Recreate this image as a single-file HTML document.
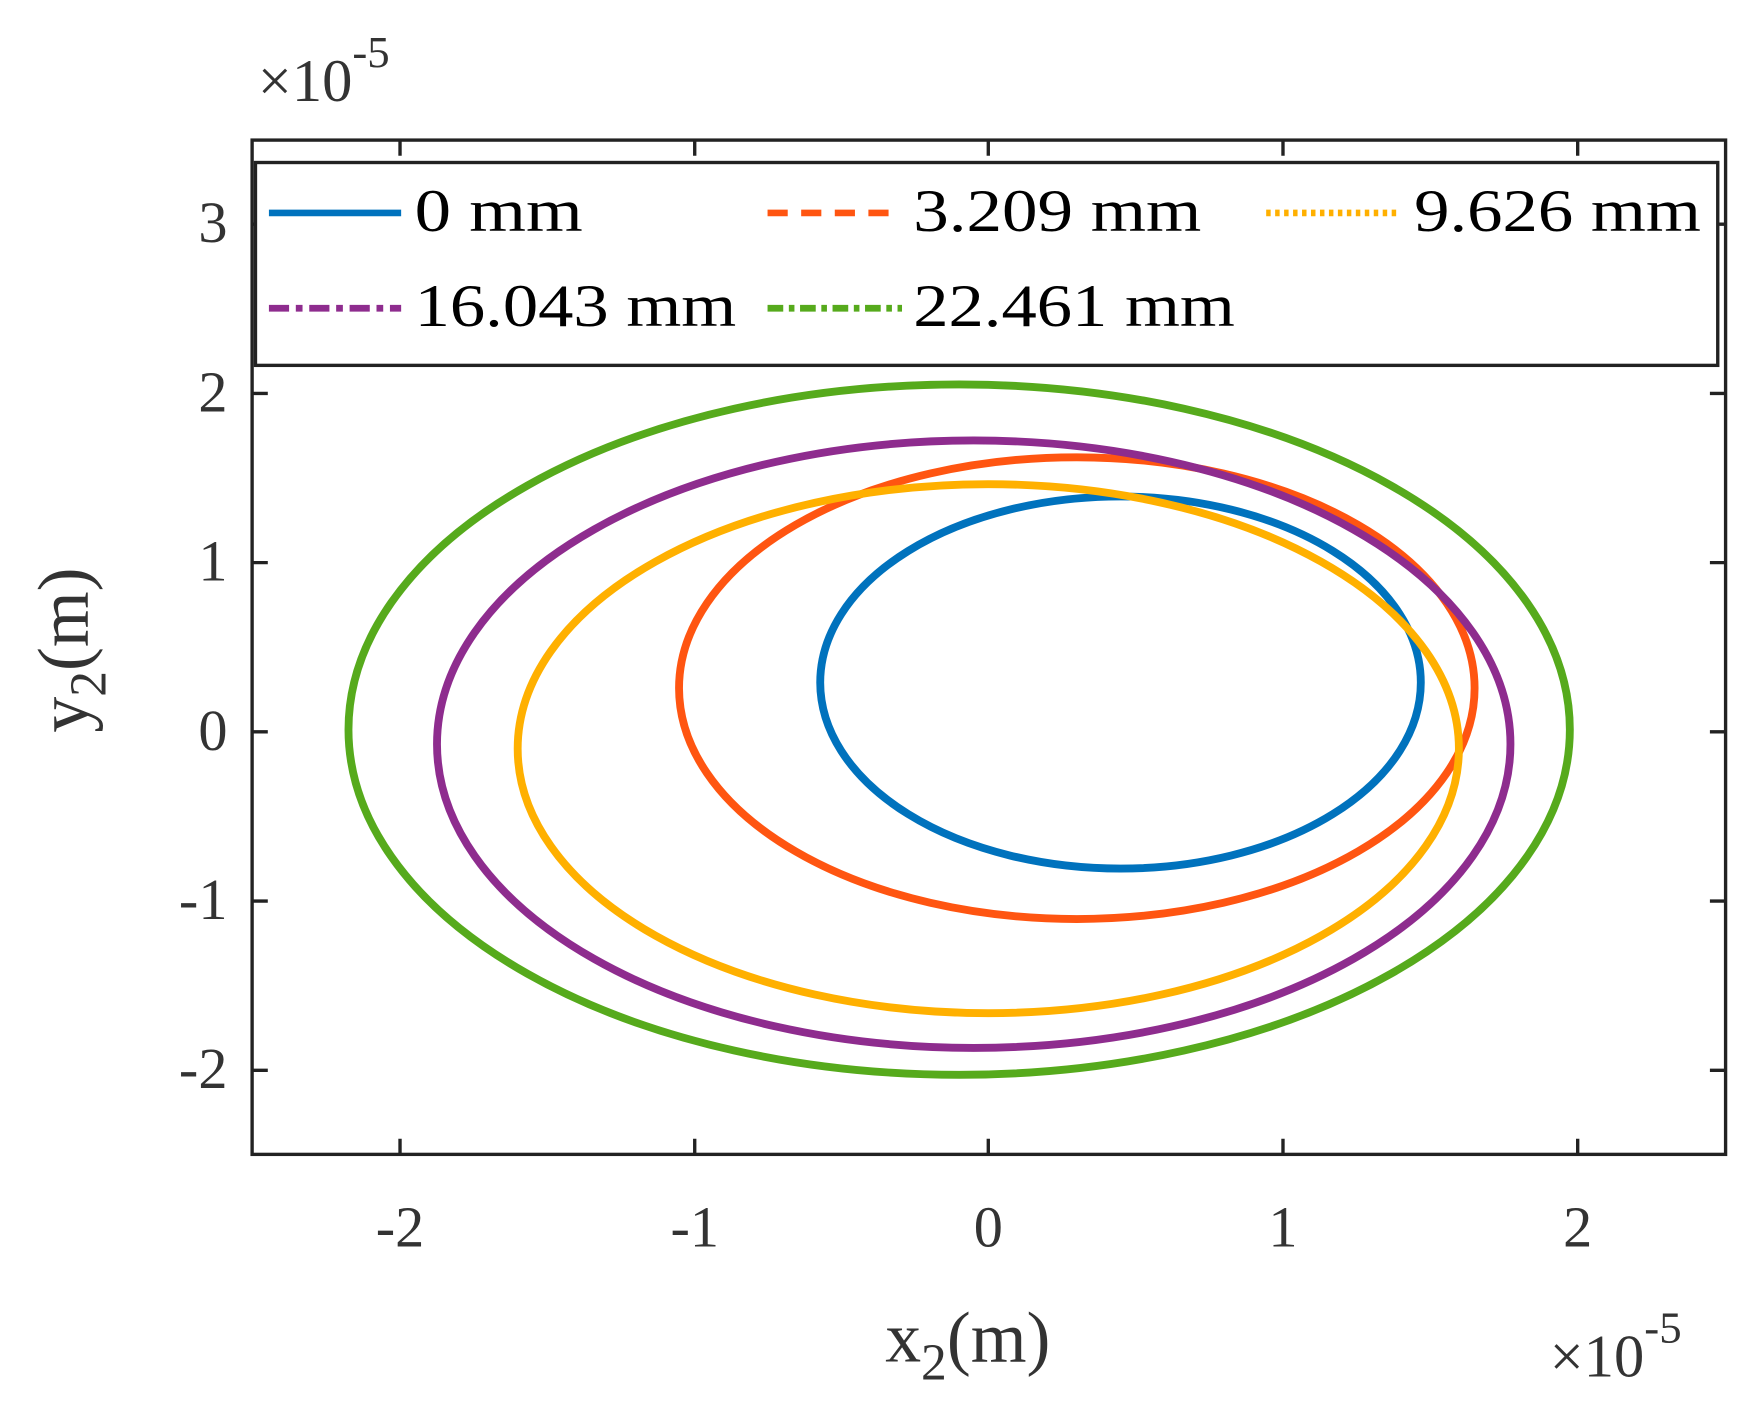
<!DOCTYPE html>
<html><head><style>html,body{margin:0;padding:0;background:#fff}svg{display:block}</style></head>
<body>
<svg width="1748" height="1420" viewBox="0 0 1560 1267" preserveAspectRatio="none" xmlns="http://www.w3.org/2000/svg" font-family="'Liberation Serif', serif">
<rect width="1560" height="1267" fill="#fff"/>
<g fill="none" stroke-width="7" stroke-linejoin="round">
<ellipse cx="1000" cy="609" rx="268" ry="166" stroke="#0072BD"/>
<ellipse cx="961" cy="614" rx="355" ry="206" stroke="#FF5511"/>
<ellipse cx="882" cy="668" rx="420" ry="236" stroke="#FFB000"/>
<ellipse cx="869" cy="664" rx="479" ry="271" stroke="#8E2C8E"/>
<ellipse cx="856" cy="651" rx="545" ry="308" stroke="#56AA1C"/>
</g>
<g stroke="#222" stroke-width="3" fill="none">
<rect x="225" y="125" width="1315" height="905"/>
<path d="M357 1030v-14M620 1030v-14M882 1030v-14M1145 1030v-14M1408 1030v-14M357 125v14M620 125v14M882 125v14M1145 125v14M1408 125v14
M225 955h14M225 804h14M225 653h14M225 502h14M225 351h14M225 200h14M1540 955h-14M1540 804h-14M1540 653h-14M1540 502h-14M1540 351h-14M1540 200h-14"/>
</g>
<rect x="228" y="145" width="1305" height="181" fill="#fff" stroke="#222" stroke-width="3"/>
<g stroke-width="6">
<path d="M240 190H358" stroke="#0072BD"/>
<path d="M685 190H805" stroke="#FF5511" stroke-dasharray="18 12"/>
<path d="M1130 190H1248" stroke="#FFB000" stroke-dasharray="4 4"/>
<path d="M240 275H358" stroke="#8E2C8E" stroke-dasharray="18 6 6 6"/>
<path d="M685 275H805" stroke="#56AA1C" stroke-dasharray="14 5 5 5"/>
</g>
<g font-size="54" fill="#000" lengthAdjust="spacingAndGlyphs">
<text x="370" y="206" textLength="150" lengthAdjust="spacingAndGlyphs">0 mm</text>
<text x="815" y="206" textLength="257" lengthAdjust="spacingAndGlyphs">3.209 mm</text>
<text x="1262" y="206" textLength="256" lengthAdjust="spacingAndGlyphs">9.626 mm</text>
<text x="370" y="291" textLength="287" lengthAdjust="spacingAndGlyphs">16.043 mm</text>
<text x="815" y="291" textLength="287" lengthAdjust="spacingAndGlyphs">22.461 mm</text>
</g>
<g font-size="52" fill="#333" text-anchor="middle">
<text x="357" y="1112">-2</text>
<text x="620" y="1112">-1</text>
<text x="882" y="1112">0</text>
<text x="1145" y="1112">1</text>
<text x="1408" y="1112">2</text>
</g>
<g font-size="52" fill="#333" text-anchor="end">
<text x="203" y="971">-2</text>
<text x="203" y="820">-1</text>
<text x="203" y="669">0</text>
<text x="203" y="518">1</text>
<text x="203" y="367">2</text>
<text x="203" y="216">3</text>
</g>
<text x="230" y="90" font-size="54" fill="#333">×10<tspan font-size="40" dy="-30">-5</tspan></text>
<text x="1383" y="1228" font-size="54" fill="#333">×10<tspan font-size="40" dy="-30">-5</tspan></text>
<text x="790" y="1215" font-size="64" fill="#333">x<tspan font-size="46" dy="16">2</tspan><tspan dy="-16">(m)</tspan></text>
<text transform="translate(78,580) rotate(-90)" text-anchor="middle" font-size="64" fill="#333">y<tspan font-size="46" dy="16">2</tspan><tspan dy="-16">(m)</tspan></text>
</svg>
</body></html>
